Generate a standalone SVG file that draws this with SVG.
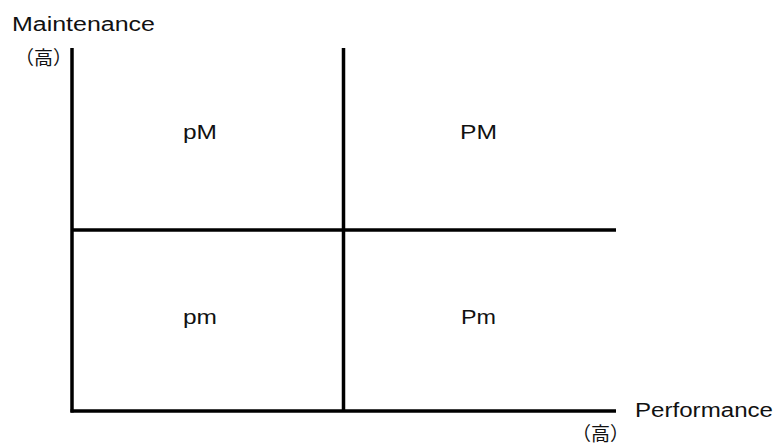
<svg xmlns="http://www.w3.org/2000/svg" width="776" height="443" viewBox="0 0 776 443">
<style>
.ln{stroke:#000;stroke-width:3.5;fill:none;stroke-linecap:butt}
.t{font-family:"Liberation Sans",Arial,sans-serif;fill:#111;font-size:20px}
.j{font-family:"Noto Sans CJK JP","Noto Sans CJK SC",sans-serif;fill:#111;font-size:19px}
</style>
<rect width="776" height="443" fill="#fff"/>
<g id="connectors">
<line class="ln" x1="72" y1="48" x2="72" y2="412.5"/>
<line class="ln" x1="70.5" y1="411" x2="616" y2="411"/>
<line class="ln" x1="72" y1="230" x2="616" y2="230"/>
<line class="ln" x1="343.5" y1="48" x2="343.5" y2="411"/>
</g>
<g id="axis-y"><text class="t" x="12" y="31" textLength="143" lengthAdjust="spacingAndGlyphs">Maintenance</text>
<text class="j" x="15" y="65">（高）</text></g>
<g id="axis-x"><text class="t" x="635" y="417" textLength="138" lengthAdjust="spacingAndGlyphs">Performance</text>
<text class="j" x="572" y="441">（高）</text></g>
<g id="pM"><text class="t" x="183" y="139" textLength="34" lengthAdjust="spacingAndGlyphs">pM</text></g>
<g id="PM"><text class="t" x="460" y="139" textLength="37" lengthAdjust="spacingAndGlyphs">PM</text></g>
<g id="pm"><text class="t" x="183" y="324" textLength="34" lengthAdjust="spacingAndGlyphs">pm</text></g>
<g id="Pm"><text class="t" x="461" y="324" textLength="35" lengthAdjust="spacingAndGlyphs">Pm</text></g>
</svg>
